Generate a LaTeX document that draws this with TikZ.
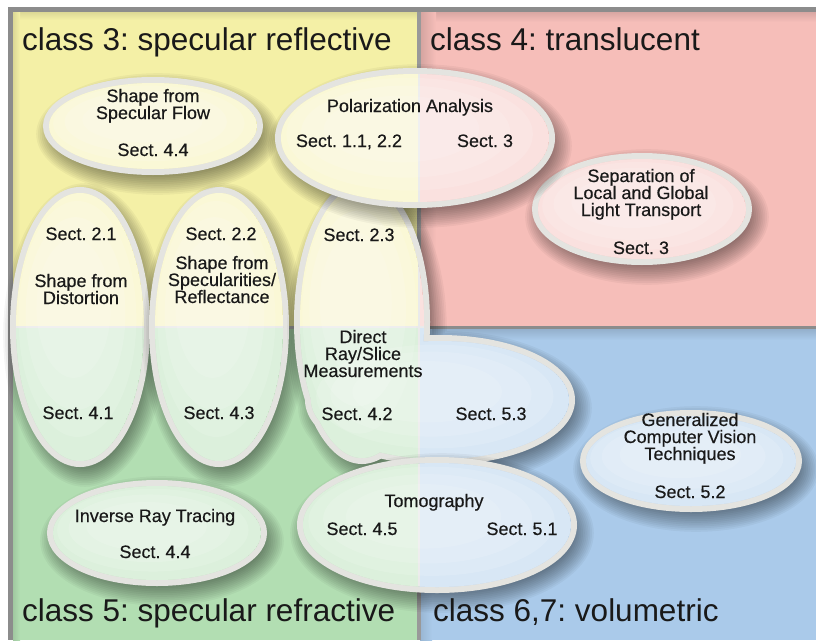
\documentclass[tikz,border=0pt]{standalone}
\usepackage{fontspec}
\setmainfont{Liberation Sans}
\frenchspacing
\definecolor{qyellow}{RGB}{244,240,166}
\definecolor{qpink}{RGB}{246,190,185}
\definecolor{qgreen}{RGB}{178,222,178}
\definecolor{qblue}{RGB}{170,202,234}
\definecolor{ringc}{RGB}{228,228,224}
\definecolor{txt}{RGB}{25,25,25}
\definecolor{framec}{RGB}{140,140,140}

% plain quadrant colours
\newcommand\quadfills{%
  \fill[qyellow] (13,12) rectangle (419,327);
  \fill[qpink] (419,12) rectangle (816,327);
  \fill[qgreen] (13,327) rectangle (419,640);
  \fill[qblue] (419,327) rectangle (816,640);
}
% the four quadrants with edge shading and dividers
\newcommand\quads{%
  \quadfills
  \shade[top color=qyellow!90!black, bottom color=qyellow] (13,12) rectangle (419,20);
  \shade[top color=qpink!88!black, bottom color=qpink] (419,12) rectangle (816,22);
  \shade[left color=qpink!86!black, right color=qpink] (420,12) rectangle (436,327);
  \shade[top color=qblue!86!black, bottom color=qblue] (419,328) rectangle (816,340);
  \shade[left color=qblue!90!black, right color=qblue] (420,328) rectangle (432,640);
  \shade[left color=qyellow!90!black, right color=qyellow] (13,12) rectangle (20,327);
  \shade[left color=qgreen!90!black, right color=qgreen] (13,327) rectangle (20,640);
  \draw[line width=3pt, color=black!28] (13,327) -- (419,327);
  \draw[line width=3pt, color=black!45] (419,327) -- (816,327);
  \draw[line width=3.5pt, color=black!40] (419,12) -- (419,640);
}
% soft shadow below an oval
\newcommand\ovshadow[4]{%
  \foreach \k in {0,...,11}{%
    \fill[black, opacity=0.04] (#1+5,#2+8) ellipse [x radius=#3-2+1.8*\k, y radius=#4-2+1.8*\k];
  }}
% lighter glow inside an oval
\newcommand\ovglow[4]{%
  \fill[white, opacity=0.14] (#1-0.04*#3,#2-0.06*#4) ellipse [x radius=0.92*#3, y radius=0.88*#4];
  \fill[white, opacity=0.14] (#1-0.07*#3,#2-0.1*#4) ellipse [x radius=0.78*#3, y radius=0.72*#4];
  \fill[white, opacity=0.12] (#1-0.1*#3,#2-0.14*#4) ellipse [x radius=0.58*#3, y radius=0.52*#4];
}
% one complete oval: shadow, rim, tinted interior
\newcommand\ovalblob[4]{%
  \ovshadow{#1}{#2}{#3}{#4}
  \draw[rim] (#1,#2) ellipse [x radius=#3, y radius=#4];
  \begin{scope}
    \clip (#1,#2) ellipse [x radius=#3, y radius=#4];
    \quadfills
    \draw[line width=1.5pt, color=black!18] (13,327) -- (816,327) (419,12) -- (419,640);
    \fill[white, opacity=0.55] (#1,#2) ellipse [x radius=#3, y radius=#4];
    \ovglow{#1}{#2}{#3}{#4}
  \end{scope}}

\tikzset{
  rim/.style={draw=ringc, line width=12pt},
  lbl/.style={font=\fontsize{18}{18}\selectfont\addfontfeature{FakeBold=0.4}, text=txt, anchor=base, inner sep=0pt},
  cls/.style={font=\fontsize{31.5}{36}\selectfont, text=txt, anchor=base west, inner sep=0pt},
}

\begin{document}
\begin{tikzpicture}[x=1pt,y=-1pt]
\useasboundingbox (0,0) rectangle (816,640);
\fill[white] (0,0) rectangle (816,640);
\quads
% outer frame, top and left
\draw[line width=5pt, color=framec] (8,9.5) -- (816,9.5);
\draw[line width=5pt, color=framec] (10.5,7) -- (10.5,640);

% ovals
\ovalblob{80}{327}{64}{134}
\ovalblob{219}{327}{64}{134}
\ovalblob{153}{126}{104}{43}
\ovalblob{157}{533}{104}{47}
\ovalblob{642}{209}{104}{50}
\ovalblob{691}{461}{105}{45}

% joined oval for direct measurements (vertical and horizontal parts)
\foreach \k in {0,...,11}{%
  \fill[black, opacity=0.04]
    (367,330) ellipse [x radius=60+1.8*\k, y radius=134+1.8*\k]
    (445,408) ellipse [x radius=127+1.8*\k, y radius=57+1.8*\k];
}
\draw[rim] (362,322) ellipse [x radius=62, y radius=136]
           (440,400) ellipse [x radius=129, y radius=59];
\begin{scope}
  \clip (362,322) ellipse [x radius=62, y radius=136]
        (440,400) ellipse [x radius=129, y radius=59];
  \quadfills
  \draw[line width=1.5pt, color=black!18] (13,327) -- (816,327) (419,12) -- (419,640);
  \fill[white, opacity=0.55] (362,322) ellipse [x radius=62, y radius=136]
                             (440,400) ellipse [x radius=129, y radius=59];
  \ovglow{362}{322}{62}{136}
  \ovglow{440}{400}{129}{59}
\end{scope}

\ovalblob{415}{138}{134}{64}
\ovalblob{437}{525}{134}{62}

% class titles
\node[cls] (c3) at (22,50) {class 3: specular reflective};
\node[cls] (c4) at (430,50) {class 4: translucent};
\node[cls] (c5) at (22,621) {class 5: specular refractive};
\node[cls] (c67) at (433,621) {class 6,7: volumetric};

% shape from specular flow
\node[lbl] (sf1) at (153,102) {Shape from};
\node[lbl] (sf2) at (153,119) {Specular Flow};
\node[lbl] (sf3) at (153,156) {Sect. 4.4};
% polarization
\node[lbl] (po1) at (410,112) {Polarization Analysis};
\node[lbl] (po2) at (349,147) {Sect. 1.1, 2.2};
\node[lbl] (po3) at (485,147) {Sect. 3};
% separation of light transport
\node[lbl] (se1) at (641,182) {Separation of};
\node[lbl] (se2) at (641,199) {Local and Global};
\node[lbl] (se3) at (641,216) {Light Transport};
\node[lbl] (se4) at (641,254) {Sect. 3};
% shape from distortion
\node[lbl] (di1) at (81,240) {Sect. 2.1};
\node[lbl] (di2) at (81,287) {Shape from};
\node[lbl] (di3) at (81,304) {Distortion};
\node[lbl] (di4) at (78,419) {Sect. 4.1};
% shape from specularities
\node[lbl] (sp1) at (221,240) {Sect. 2.2};
\node[lbl] (sp2) at (222,269) {Shape from};
\node[lbl] (sp3) at (222,286) {Specularities/};
\node[lbl] (sp4) at (222,303) {Reflectance};
\node[lbl] (sp5) at (219,419) {Sect. 4.3};
% direct measurements
\node[lbl] (dr1) at (359,241) {Sect. 2.3};
\node[lbl] (dr2) at (363,343) {Direct};
\node[lbl] (dr3) at (363,360) {Ray/Slice};
\node[lbl] (dr4) at (363,377) {Measurements};
\node[lbl] (dr5) at (357,420) {Sect. 4.2};
\node[lbl] (dr6) at (491,420) {Sect. 5.3};
% generalized computer vision
\node[lbl] (gc1) at (690,426) {Generalized};
\node[lbl] (gc2) at (690,443) {Computer Vision};
\node[lbl] (gc3) at (690,460) {Techniques};
\node[lbl] (gc4) at (690,498) {Sect. 5.2};
% inverse ray tracing
\node[lbl] (ir1) at (155,522) {Inverse Ray Tracing};
\node[lbl] (ir2) at (155,558) {Sect. 4.4};
% tomography
\node[lbl] (to1) at (434,507) {Tomography};
\node[lbl] (to2) at (362,535) {Sect. 4.5};
\node[lbl] (to3) at (522,535) {Sect. 5.1};
\end{tikzpicture}
\end{document}
